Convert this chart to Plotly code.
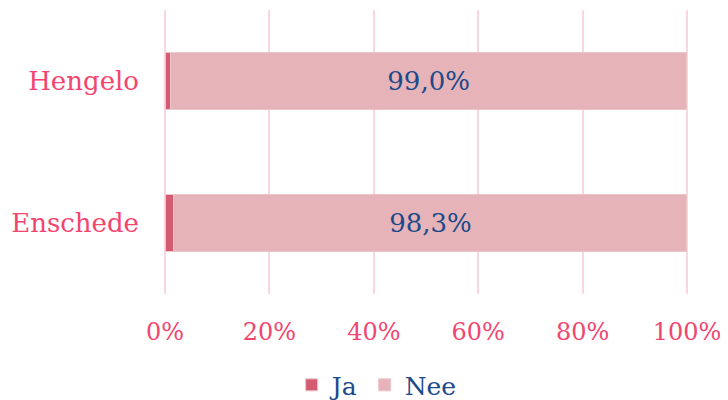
import plotly.graph_objects as go

categories = ["Enschede", "Hengelo"]
ja_values = [1.7, 1.0]
nee_values = [98.3, 99.0]
nee_labels = ["98,3%", "99,0%"]
tick_vals = [0, 20, 40, 60, 80, 100]
tick_text = ["0%", "20%", "40%", "60%", "80%", "100%"]

FONT = "DejaVu Serif"
PINK = "#f2456f"
BLUE = "#1a4a8a"

fig = go.Figure()
fig.add_trace(go.Bar(
    y=categories, x=ja_values, name="Ja", orientation="h",
    marker=dict(color="#d45c70", line=dict(color="#ecc6ca", width=1)),
    hoverinfo="x+y",
))
fig.add_trace(go.Bar(
    y=categories, x=nee_values, name="Nee", orientation="h",
    marker=dict(color="#e6b3b8", line=dict(color="#ecc6ca", width=1)),
    text=nee_labels, textposition="inside", insidetextanchor="middle",
    textfont=dict(family=FONT, size=26, color=BLUE),
))
fig.update_layout(
    barmode="stack",
    bargap=0.6,
    width=720, height=392,
    margin=dict(l=156, r=40, t=2, b=106),
    plot_bgcolor="white", paper_bgcolor="white",
    font=dict(family=FONT, size=25, color=PINK),
    xaxis=dict(
        range=[-0.2, 100.2], tickvals=tick_vals, ticktext=tick_text,
        showgrid=True, gridcolor="#fad6e1", gridwidth=2,
        zeroline=False, showline=False,
        tickfont=dict(family=FONT, size=24, color=PINK),
        ticks="", ticklabelstandoff=21, automargin=False,
    ),
    yaxis=dict(
        showgrid=False, zeroline=False, showline=False,
        tickfont=dict(family=FONT, size=26, color=PINK),
        ticks="", ticklabelstandoff=24, automargin=False,
    ),
    legend=dict(
        orientation="h", xref="container", x=0.394, xanchor="left",
        yref="container", y=0.038, yanchor="middle",
        bgcolor="rgba(0,0,0,0)",
        font=dict(family=FONT, size=25, color=BLUE),
        traceorder="normal", itemwidth=30,
    ),
    uniformtext=dict(mode=False),
)
fig.write_html("out.html")
